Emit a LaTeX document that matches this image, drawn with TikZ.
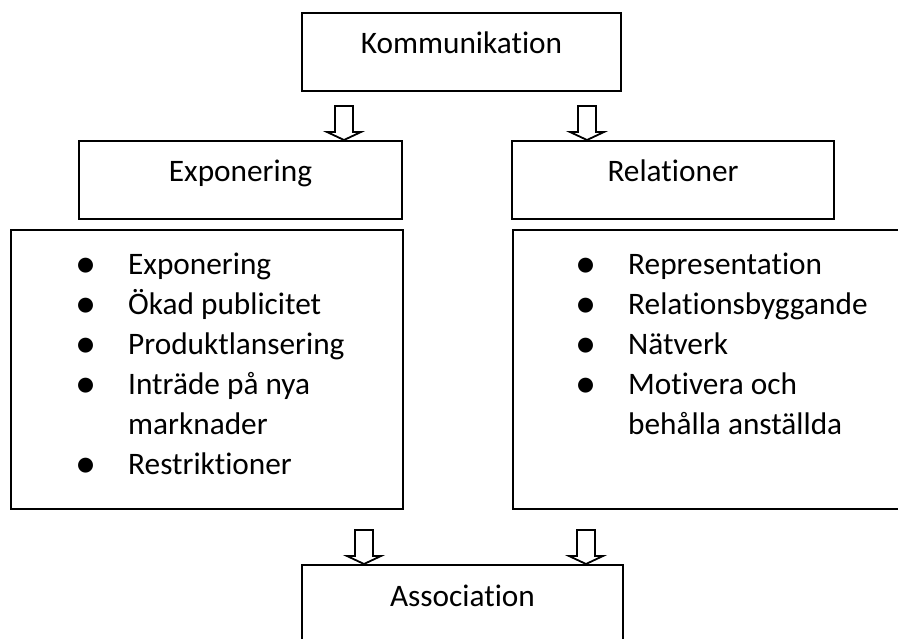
\documentclass[tikz,border=0pt]{standalone}
\usepackage{fontspec}
\setmainfont{Carlito}[Ligatures = NoCommon]
\usepackage{tikz}
\usetikzlibrary{positioning}
\tikzset{box/.style = {draw, line width = 2, inner sep = 0, anchor = north,
                       text height = 41pt, text depth = 37pt,
                       font = \fontsize{31.3}{40}\selectfont}}
\tikzset{listbox/.style = {draw, line width = 2, inner sep = 0, anchor = north west,
                           minimum height = 279pt}}
\tikzset{items/.style = {inner sep = 0, anchor = base west,
                         font = \fontsize{31.3}{40}\selectfont}}
\tikzset{blockarrow/.pic = {
  \draw [line width = 1.8, line join = miter, fill = white]
    (0, 0) -- (-17, -8) -- (-9, -8) -- (-9, -34) -- (9, -34) -- (9, -8) -- (17, -8) -- cycle;
}}
\newcommand{\itm}{\makebox[42pt][l]{\makebox[0pt]{\raisebox{-3pt}{\scalebox{1.35}{\textbullet}}}}}

\begin{document}
\begin{tikzpicture}[x = 1pt, y = -1pt]
  \path [use as bounding box, clip] (0, 0) rectangle (898, 639);
  \node [box, minimum width = 319pt] (komm) at (461.5, 12) {Kommunikation};
  \node [box, minimum width = 323pt] (expo) at (240.5, 140) {Exponering};
  \node [box, minimum width = 322pt] (rel) at (673, 140) {Relationer};
  \node [listbox, minimum width = 392pt] (expobox) at (10, 229) {};
  \node [listbox, minimum width = 410pt] (relbox) at (512, 229) {};
  \node [box, minimum width = 321pt, text depth = 90pt] (assoc) at (462.5, 564) {Association};
  \node [items] (expolist) at ([shift = {(76, 46)}]expobox.north west)
    {\begin{tabular}[t]{@{}l@{}}
       \itm Exponering\\
       \itm Ökad publicitet\\
       \itm Produktlansering\\
       \itm Inträde på nya\\
       \hspace{42pt}marknader\\
       \itm Restriktioner
     \end{tabular}};
  \node [items] (rellist) at ([shift = {(74, 46)}]relbox.north west)
    {\begin{tabular}[t]{@{}l@{}}
       \itm Representation\\
       \itm Relationsbyggande\\
       \itm Nätverk\\
       \itm Motivera och\\
       \hspace{42pt}behålla anställda
     \end{tabular}};
  % arrows
  \pic at ([xshift = 103.5]expo.north) {blockarrow};
  \pic at ([xshift = -86]rel.north) {blockarrow};
  \pic at ([xshift = -98.5]assoc.north) {blockarrow};
  \pic at ([xshift = 123.5]assoc.north) {blockarrow};
\end{tikzpicture}
\end{document}
